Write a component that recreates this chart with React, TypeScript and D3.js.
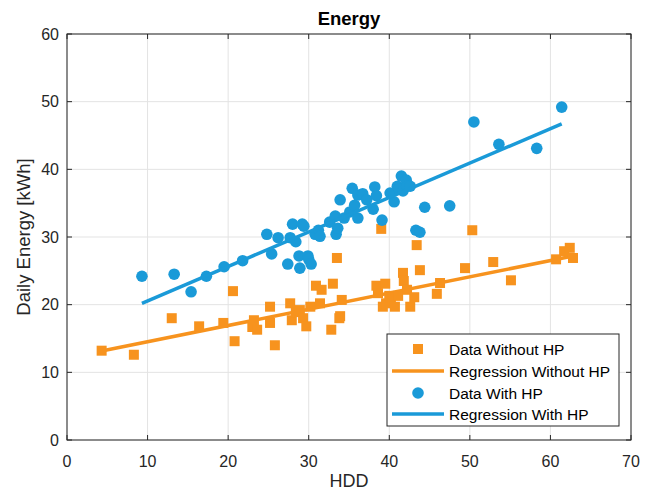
import React from "react";
import * as d3 from "d3";

const xTicks = [0, 10, 20, 30, 40, 50, 60, 70];
const yTicks = [0, 10, 20, 30, 40, 50, 60];

const withoutHdd = [4.3, 8.3, 13.0, 16.4, 19.4, 20.6, 20.8, 23.0, 23.2, 23.6, 25.2, 25.2, 25.8, 27.7, 27.9, 28.4, 28.9, 29.3, 29.7, 30.2, 30.9, 31.4, 31.6, 32.8, 33.0, 33.5, 33.8, 34.1, 33.9, 39.0, 38.4, 38.6, 39.5, 39.2, 39.6, 40.0, 40.2, 40.7, 41.1, 41.7, 41.8, 42.2, 42.6, 43.1, 43.4, 43.8, 45.9, 46.3, 49.4, 50.3, 52.9, 55.1, 60.7, 61.7, 62.4, 62.8];
const withoutEnergy = [13.2, 12.6, 18.0, 16.8, 17.3, 22.0, 14.6, 16.7, 17.7, 16.3, 19.7, 17.3, 14.0, 20.2, 17.7, 18.9, 19.2, 18.0, 16.8, 19.7, 22.8, 20.2, 22.2, 16.3, 23.1, 26.9, 18.0, 20.7, 18.3, 31.2, 22.8, 21.7, 23.1, 19.7, 20.2, 21.3, 21.1, 19.7, 21.3, 24.7, 23.5, 22.2, 19.7, 21.1, 28.8, 25.1, 21.6, 23.2, 25.4, 31.0, 26.3, 23.6, 26.7, 27.9, 28.4, 26.9];

const withHdd = [9.3, 13.3, 15.4, 17.3, 19.5, 21.8, 24.8, 25.4, 26.2, 27.4, 27.7, 28.0, 28.4, 28.8, 28.9, 29.2, 29.4, 29.9, 30.0, 30.3, 30.8, 31.2, 31.4, 32.6, 33.3, 33.4, 33.6, 33.9, 34.4, 35.1, 35.4, 35.7, 36.1, 36.1, 36.7, 37.2, 38.0, 38.2, 38.4, 39.1, 40.1, 40.6, 41.0, 41.2, 41.5, 41.7, 42.1, 42.2, 42.6, 43.3, 43.8, 44.4, 47.5, 50.5, 53.6, 58.3, 61.4];
const withEnergy = [24.2, 24.5, 21.9, 24.2, 25.6, 26.5, 30.4, 27.5, 29.9, 26.0, 29.9, 31.9, 29.3, 27.2, 25.4, 31.9, 31.6, 27.2, 26.7, 26.0, 30.4, 31.0, 30.1, 32.2, 33.1, 30.4, 31.3, 35.5, 32.8, 33.7, 37.2, 34.7, 32.8, 36.2, 36.4, 35.5, 34.1, 37.4, 36.1, 32.5, 36.5, 35.2, 37.5, 37.1, 39.0, 36.8, 38.4, 37.5, 37.5, 31.0, 30.7, 34.4, 34.6, 47.0, 43.7, 43.1, 49.2];

// regression coefficients: [intercept, slope]
const regWithout = [12.12, 0.24];
const regWith = [15.47, 0.509];

const legendLabels = ["Data Without HP", "Regression Without HP", "Data With HP", "Regression With HP"];

const ORANGE = "#F7931E";
const BLUE = "#1A9AD8";
const AX = "#262626";

export default function App() {
  const W = 645, H = 492;
  const left = 67, right = 631, top = 34, bottom = 440;
  const x = d3.scaleLinear().domain([0, 70]).range([left, right]);
  const y = d3.scaleLinear().domain([0, 60]).range([bottom, top]);
  const font = "'Liberation Sans', Arial, Helvetica, sans-serif";

  const line = d3.line<[number, number]>().x(d => x(d[0])).y(d => y(d[1]));
  const ex1 = d3.extent(withoutHdd) as [number, number];
  const ex2 = d3.extent(withHdd) as [number, number];
  const reg1 = line(ex1.map(v => [v, regWithout[0] + regWithout[1] * v] as [number, number]))!;
  const reg2 = line(ex2.map(v => [v, regWith[0] + regWith[1] * v] as [number, number]))!;

  const lgX = 387, lgY = 334, lgW = 232, lgH = 92;
  const rows = [349, 371, 393, 414];

  return (
    <svg width={W} height={H} style={{ display: "block", position: "absolute", left: 0, top: 0 }} fontFamily={font}>
      <rect x={0} y={0} width={W} height={H} fill="#fff" />
      {xTicks.map(t => (
        <line key={"gx" + t} x1={x(t)} x2={x(t)} y1={top} y2={bottom} stroke="#e3e3e3" strokeWidth={1} />
      ))}
      {yTicks.map(t => (
        <line key={"gy" + t} x1={left} x2={right} y1={y(t)} y2={y(t)} stroke="#e3e3e3" strokeWidth={1} />
      ))}
      <path d={reg1} stroke={ORANGE} strokeWidth={3.5} fill="none" />
      {withoutHdd.map((h, i) => (
        <rect key={"o" + i} x={x(h) - 5} y={y(withoutEnergy[i]) - 5} width={10} height={10} fill={ORANGE} />
      ))}
      {withHdd.map((h, i) => (
        <circle key={"b" + i} cx={x(h)} cy={y(withEnergy[i])} r={5.8} fill={BLUE} />
      ))}
      <path d={reg2} stroke={BLUE} strokeWidth={3.5} fill="none" />
      <rect x={left} y={top} width={right - left} height={bottom - top} fill="none" stroke={AX} strokeWidth={1} />
      {xTicks.map(t => (
        <g key={"tx" + t}>
          <line x1={x(t)} x2={x(t)} y1={bottom} y2={bottom - 5} stroke={AX} />
          <line x1={x(t)} x2={x(t)} y1={top} y2={top + 5} stroke={AX} />
          <text x={x(t)} y={467} textAnchor="middle" fontSize={16} fill={AX}>{t}</text>
        </g>
      ))}
      {yTicks.map(t => (
        <g key={"ty" + t}>
          <line x1={left} x2={left + 5} y1={y(t)} y2={y(t)} stroke={AX} />
          <line x1={right} x2={right - 5} y1={y(t)} y2={y(t)} stroke={AX} />
          <text x={59} y={y(t) + 5.5} textAnchor="end" fontSize={16} fill={AX}>{t}</text>
        </g>
      ))}
      <text x={(left + right) / 2} y={25} textAnchor="middle" fontSize={18.5} fontWeight="bold" fill="#000">Energy</text>
      <text x={(left + right) / 2} y={487} textAnchor="middle" fontSize={18} fill={AX}>HDD</text>
      <text transform={`translate(30, ${(top + bottom) / 2}) rotate(-90)`} textAnchor="middle" fontSize={18.5} fill={AX}>Daily Energy [kWh]</text>
      <rect x={lgX} y={lgY} width={lgW} height={lgH} fill="#fff" stroke={AX} strokeWidth={1} />
      <rect x={418 - 5} y={rows[0] - 5} width={10} height={10} fill={ORANGE} />
      <line x1={392} x2={444} y1={rows[1]} y2={rows[1]} stroke={ORANGE} strokeWidth={3.5} />
      <circle cx={418} cy={rows[2]} r={5.8} fill={BLUE} />
      <line x1={392} x2={444} y1={rows[3]} y2={rows[3]} stroke={BLUE} strokeWidth={3.5} />
      {legendLabels.map((l, i) => (
        <text key={l} x={449} y={rows[i] + 5.5} fontSize={15.5} fill="#000">{l}</text>
      ))}
    </svg>
  );
}
